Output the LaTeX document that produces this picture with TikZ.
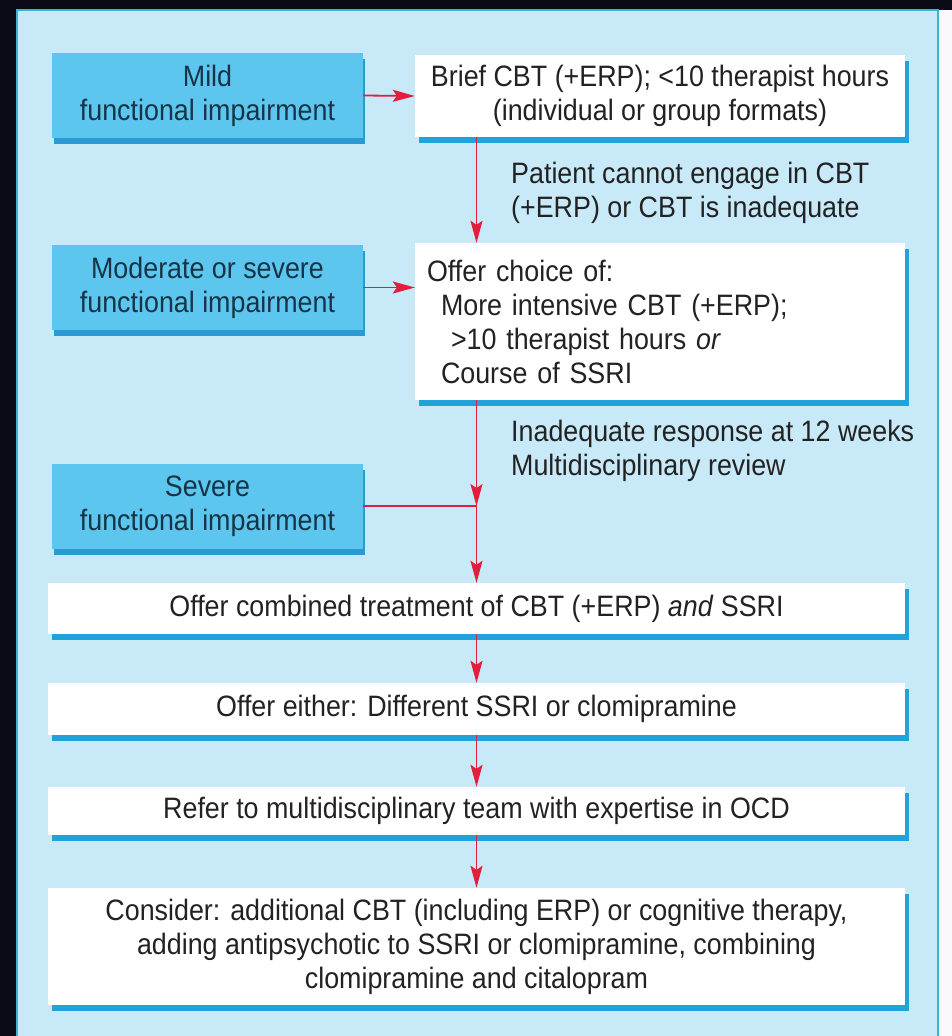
\documentclass[tikz,border=0pt]{standalone}
\usepackage{fontspec}
\setmainfont{Liberation Sans}[FakeStretch=0.91]
\usetikzlibrary{arrows.meta,shadows}

\definecolor{outerbg}{HTML}{0B0B18}
\definecolor{sidestrip}{HTML}{FAF8FC}
\definecolor{panelblue}{HTML}{C8E9F8}
\definecolor{panelline}{HTML}{3BB5D6}
\definecolor{levelblue}{HTML}{5CC6EE}
\definecolor{levelshade}{HTML}{2B9AD0}
\definecolor{stepshade}{HTML}{21A2DA}
\definecolor{flowred}{HTML}{E31E3C}
\definecolor{txt}{HTML}{222222}
\definecolor{navytxt}{HTML}{163447}

\tikzset{
  flowtext/.style={font=\fontsize{29.5}{34}\selectfont, text=txt},
  levelbox/.style={flowtext, fill=levelblue, text=navytxt, align=center,
    inner sep=0pt, minimum width=311pt, minimum height=85pt,
    drop shadow={shadow xshift=2pt, shadow yshift=-6pt, fill=levelshade, opacity=1}},
  stepbox/.style={flowtext, fill=white, inner sep=0pt, align=center,
    drop shadow={shadow xshift=4pt, shadow yshift=-6pt, fill=stepshade, opacity=1}},
  note/.style={flowtext, align=left, anchor=west, inner sep=0pt},
  flowline/.style={draw=flowred, line width=1.8pt},
  flow/.style={flowline, -{Stealth[length=22pt, width=12pt, inset=4pt]}}
}

\begin{document}
\begin{tikzpicture}[x=1pt, y=-1pt]
\useasboundingbox (0,0) rectangle (952,1036);

% backdrop and panel
\fill[outerbg] (0,0) rectangle (952,1036);
\fill[sidestrip] (938,10) rectangle (952,1036);
\draw[panelline, fill=panelblue, line width=2pt] (17,10) rectangle (938,1060);

% severity levels
\node[levelbox] (mild) at (207.5,95.5) {Mild\\functional impairment};
\node[levelbox] (moderate) at (207.5,287.5) {Moderate or severe\\functional impairment};
\node[levelbox] (severe) at (207.5,506) {Severe\\functional impairment};

% treatment steps
\node[stepbox, minimum width=490pt, minimum height=82pt] (brief) at (660,96)
  {Brief CBT (+ERP); <10 therapist hours\\(individual or group formats)};
\node[stepbox, minimum width=490pt, minimum height=157pt, text width=466pt, align=left] (choice) at (660,321.5)
  {Offer choice of:\\\hspace*{14pt}More intensive CBT (+ERP);\\\hspace*{24pt}>10 therapist hours \emph{or}\\\hspace*{14pt}Course of SSRI};
\node[stepbox, minimum width=857pt, minimum height=51pt] (combined) at (476.5,608.5)
  {Offer combined treatment of CBT (+ERP) \emph{and} SSRI};
\node[stepbox, minimum width=857pt, minimum height=52pt] (either) at (476.5,709)
  {Offer either: Different SSRI or clomipramine};
\node[stepbox, minimum width=857pt, minimum height=48pt] (refer) at (476.5,811)
  {Refer to multidisciplinary team with expertise in OCD};
\node[stepbox, minimum width=857pt, minimum height=117pt] (consider) at (476.5,946.5)
  {Consider: additional CBT (including ERP) or cognitive therapy,\\adding antipsychotic to SSRI or clomipramine, combining\\clomipramine and citalopram};

% conditions on the main line
\node[note] (cannot) at (511,193) {Patient cannot engage in CBT\\(+ERP) or CBT is inadequate};
\node[note] (inadequate) at (511,451) {Inadequate response at 12 weeks\\Multidisciplinary review};

% connectors
\coordinate (join) at (severe.east -| combined.north);
\draw[flow] (mild.east) -- (brief.west);
\draw[flow] (moderate.east) -- (moderate.east -| choice.west);
\draw[flow] (brief.south -| combined.north) -- (choice.north -| combined.north);
\draw[flow] (choice.south -| combined.north) -- (join);
\draw[flowline] (severe.east) -- (join);
\draw[flow] (join) -- (combined.north);
\draw[flow] (combined.south) -- (either.north);
\draw[flow] (either.south) -- (refer.north);
\draw[flow] (refer.south) -- (consider.north);
\end{tikzpicture}
\end{document}
